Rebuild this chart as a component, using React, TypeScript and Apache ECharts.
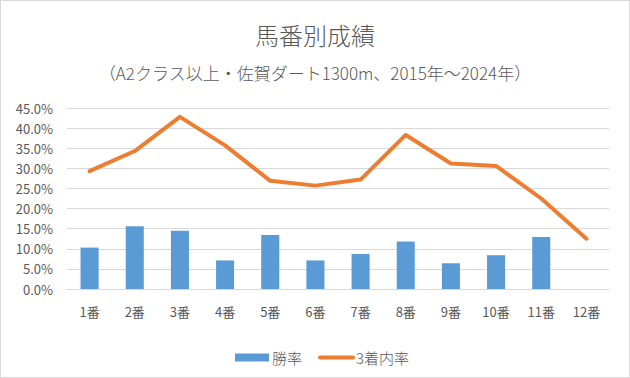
import React, { useEffect, useRef } from "react";
import * as echarts from "echarts";

const categories = ["1番", "2番", "3番", "4番", "5番", "6番", "7番", "8番", "9番", "10番", "11番", "12番"];
const winRate = [10.3, 15.6, 14.5, 7.1, 13.4, 7.1, 8.7, 11.8, 6.4, 8.4, 12.9, 0];
const top3Rate = [29.3, 34.3, 42.8, 35.7, 26.9, 25.7, 27.2, 38.3, 31.2, 30.6, 22.5, 12.5];
const titleText = "馬番別成績";
const subtitleText = "（A2クラス以上・佐賀ダート1300m、2015年～2024年）";
const seriesNames = ["勝率", "3着内率"];

const FONT = "'Noto Sans CJK JP', 'Open Sans', sans-serif";

export default function App() {
  const ref = useRef<HTMLDivElement>(null);
  useEffect(() => {
    if (!ref.current) return;
    const chart = echarts.init(ref.current, undefined, { renderer: "svg" });
    chart.setOption({
      animation: false,
      backgroundColor: "#ffffff",
      textStyle: { fontFamily: FONT },
      title: [
        {
          text: titleText,
          left: "center",
          top: 16,
          textStyle: { fontFamily: FONT, fontSize: 24, fontWeight: 300, color: "#595959" },
        },
        {
          text: subtitleText,
          left: "center",
          top: 58,
          textStyle: { fontFamily: FONT, fontSize: 17, fontWeight: 300, color: "#595959" },
        },
      ],
      grid: { left: 66, right: 20, top: 107, bottom: 88 },
      xAxis: {
        type: "category",
        data: categories,
        axisLine: { show: true, lineStyle: { color: "#D9D9D9" } },
        axisTick: { show: false },
        axisLabel: { color: "#595959", fontSize: 13, margin: 16, fontFamily: FONT },
      },
      yAxis: {
        type: "value",
        min: 0,
        max: 45,
        interval: 5,
        axisLine: { show: false },
        axisTick: { show: false },
        splitLine: { lineStyle: { color: "#D9D9D9", width: 1 } },
        axisLabel: {
          color: "#595959",
          fontSize: 13,
          margin: 14,
          fontFamily: FONT,
          formatter: (v: number) => v.toFixed(1) + "%",
        },
      },
      legend: [
        {
          left: 229,
          top: 344,
          itemWidth: 34,
          itemHeight: 8,
          icon: "rect",
          textStyle: { color: "#595959", fontSize: 15, fontWeight: 300, fontFamily: FONT, padding: [0, 0, 0, -2] },
          data: [seriesNames[0]],
        },
        {
          left: 312,
          top: 344,
          itemWidth: 37,
          itemHeight: 16,
          icon: "path://M2,0 h33 a2,2 0 0 1 0,4 h-33 a2,2 0 0 1 0,-4 z",
          textStyle: { color: "#595959", fontSize: 15, fontWeight: 300, fontFamily: FONT, padding: [0, 0, 0, -4] },
          data: [seriesNames[1]],
        },
      ],
      series: [
        {
          name: seriesNames[0],
          type: "bar",
          data: winRate,
          barWidth: "40%",
          itemStyle: { color: "#5B9BD5" },
        },
        {
          name: seriesNames[1],
          type: "line",
          data: top3Rate,
          symbol: "none",
          lineStyle: { color: "#ED7D31", width: 4, cap: "round", join: "round" },
          itemStyle: { color: "#ED7D31" },
        },
      ],
    });
    return () => chart.dispose();
  }, []);
  return (
    <div
      style={{
        position: "fixed",
        left: 0,
        top: 0,
        width: 630,
        height: 378,
        boxSizing: "border-box",
        border: "1px solid #D9D9D9",
        background: "#fff",
      }}
    >
      <div ref={ref} style={{ width: 628, height: 376 }} />
    </div>
  );
}
